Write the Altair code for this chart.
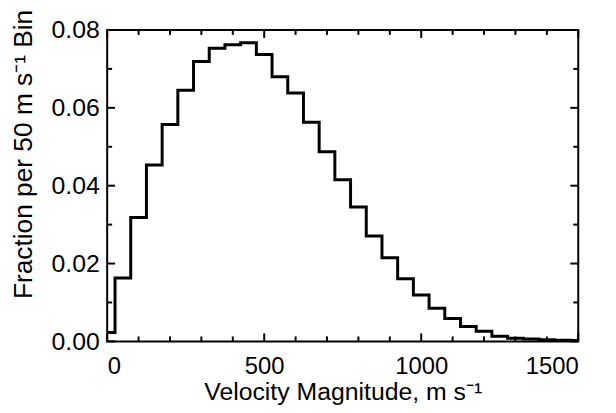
import altair as alt
import pandas as pd

# Bin centres (m/s) and fraction per 50 m/s bin
speed = list(range(0, 1501, 50))
fraction = [0.0023, 0.0163, 0.0318, 0.0453, 0.0557, 0.0645, 0.0719, 0.0753, 0.0762, 0.0767,
            0.0737, 0.0680, 0.0638, 0.0563, 0.0487, 0.0415, 0.0345, 0.0271, 0.0215, 0.0161,
            0.0119, 0.0085, 0.0059, 0.0038, 0.0026, 0.0013, 0.0008, 0.0006, 0.0004, 0.0003,
            0.0002]

x_major = [0, 500, 1000, 1500]
x_minor = [100, 200, 300, 400, 600, 700, 800, 900, 1100, 1200, 1300, 1400]
y_major = [0.0, 0.02, 0.04, 0.06, 0.08]
y_minor = [0.01, 0.03, 0.05, 0.07]

W, H = 475, 314
FONT = "Liberation Sans"

df = pd.DataFrame({"speed": speed, "fraction": fraction})

xs = alt.Scale(domain=[0, 1500], nice=False, zero=False)
ys = alt.Scale(domain=[0, 0.08], nice=False)

x_axis = alt.Axis(values=x_major, format="d", title="Velocity Magnitude, m s⁻¹",
                  labelFontSize=24, titleFontSize=25,
                  labelPadding=13, titleY=58.5, titleBaseline="alphabetic")
y_axis = alt.Axis(values=y_major, format=".2f", title="Fraction per 50 m s⁻¹ Bin",
                  labelFontSize=25, titleFontSize=26.5,
                  labelPadding=8, titleAngle=270, titleX=-76, titleY=125,
                  titleAlign="center", titleBaseline="alphabetic")

hist = alt.Chart(df).mark_line(
    interpolate="step", color="black", strokeWidth=3, strokeJoin="miter"
).encode(
    x=alt.X("speed:Q", scale=xs, axis=x_axis),
    y=alt.Y("fraction:Q", scale=ys, axis=y_axis),
)


def xticks(vals, length):
    d = pd.DataFrame({"v": vals})
    base = alt.Chart(d).mark_rule(color="black", strokeWidth=2)
    xenc = alt.X("v:Q", scale=xs, axis=x_axis)
    bottom = base.encode(x=xenc, y=alt.value(H), y2=alt.value(H - length))
    top = base.encode(x=xenc, y=alt.value(0), y2=alt.value(length))
    return [bottom, top]


def yticks(vals, length):
    d = pd.DataFrame({"v": vals})
    base = alt.Chart(d).mark_rule(color="black", strokeWidth=2)
    yenc = alt.Y("v:Q", scale=ys, axis=y_axis)
    left = base.encode(y=yenc, x=alt.value(0), x2=alt.value(length))
    right = base.encode(y=yenc, x=alt.value(W), x2=alt.value(W - length))
    return [left, right]


layers = [hist] + xticks(x_major, 8) + xticks(x_minor, 5) + yticks(y_major, 8) + yticks(y_minor, 5)

chart = alt.layer(*layers).properties(
    width=W, height=H,
    autosize=alt.AutoSizeParams(type="none"),
    padding={"left": 100, "top": 20.5, "right": 30, "bottom": 66},
).configure_view(
    stroke="black", strokeWidth=2
).configure_axis(
    labelFont=FONT, titleFont=FONT,
    titleFontWeight="normal", labelColor="black", titleColor="black",
    domain=False, ticks=False, grid=False
)

chart.save("out.html", embed_options={"renderer": "svg", "actions": False})
